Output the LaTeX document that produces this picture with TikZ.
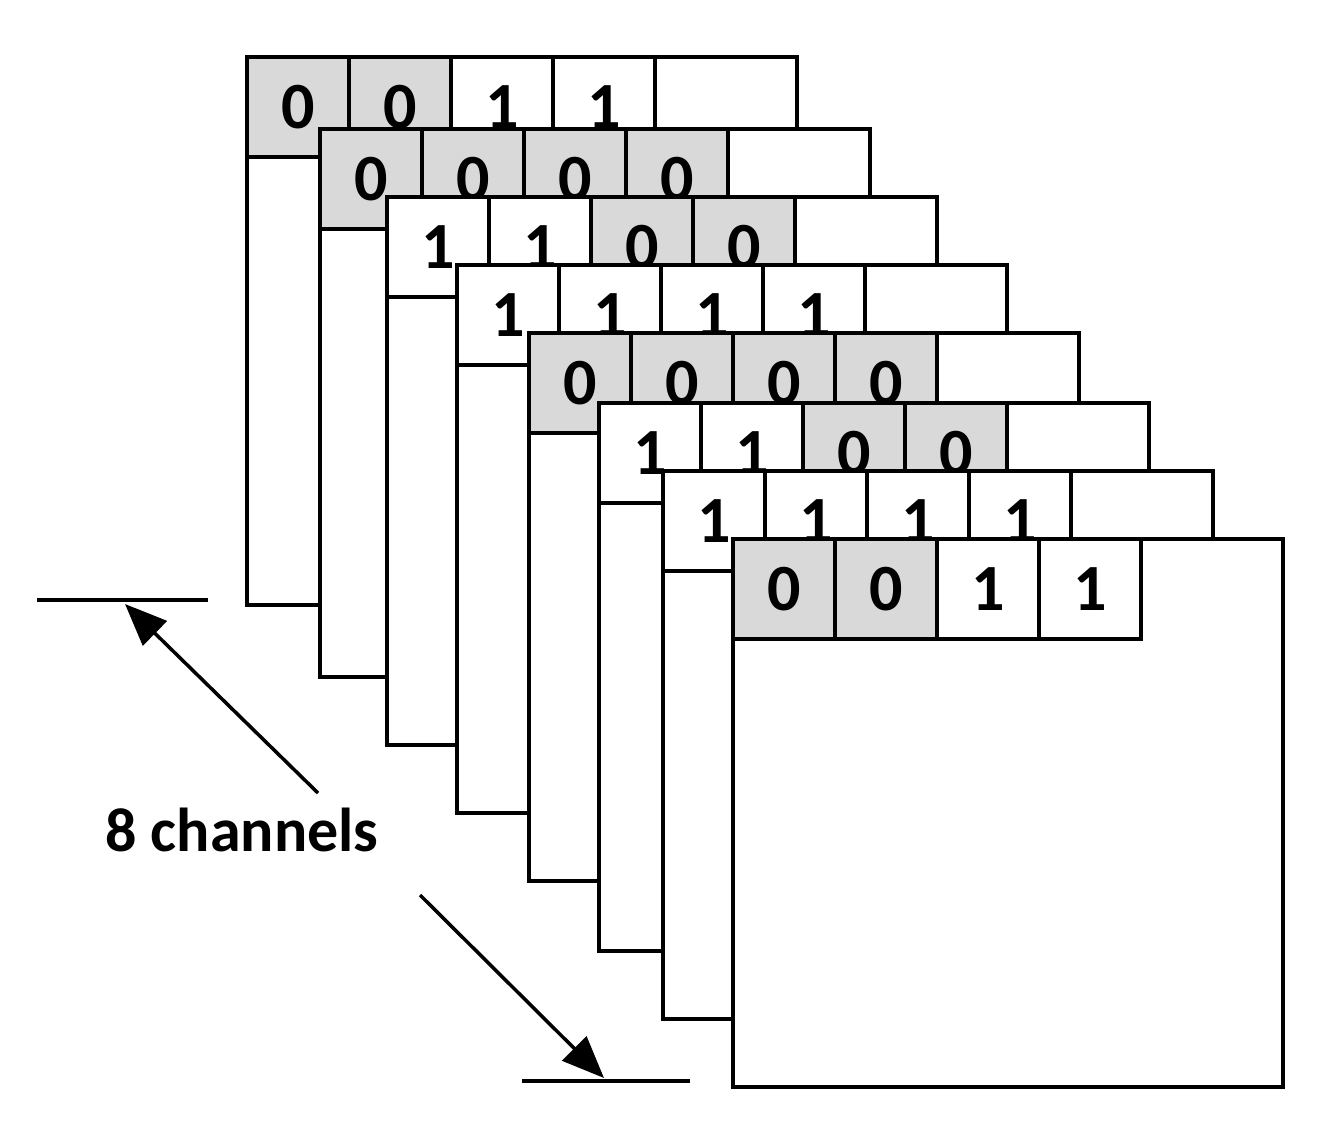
\documentclass[tikz,border=0pt]{standalone}
\usepackage{fontspec}
\setmainfont{Carlito}
\usetikzlibrary{arrows.meta}
\begin{document}
\begin{tikzpicture}[x=1pt,y=-1pt,
  frame/.style={draw=black,line width=3.5pt,fill=white},
  cell/.style={draw=black,line width=3.5pt},
  zero/.style={cell,fill=black!15},
  one/.style={cell,fill=white},
  dig/.style={font=\fontsize{66}{66}\selectfont\bfseries},
  lbl/.style={font=\fontsize{62}{62}\selectfont\bfseries},
  arr/.style={line width=3.5pt,-{Triangle[length=42pt,width=34pt]}},
  bar/.style={line width=3.5pt}]
\useasboundingbox (0,0) rectangle (1325,1141);
\def\xs{{245,318,385,455,527,597,661,731}}
\def\ys{{55,127,195,263,331,401,469,537}}
\def\rows{{"0011","0000","1100","1111","0000","1100","1111","0011"}}
\foreach \k [evaluate=\k as \x using {\xs[\k]}, evaluate=\k as \y using {\ys[\k]}] in {0,...,7}{
  \node[frame,minimum width=550pt,minimum height=548pt,inner sep=0pt,anchor=north west] (f\k) at (\x,\y) {};
  \foreach \c in {0,...,3}{
    \pgfmathsetmacro{\bit}{int(mod(floor({"0011","0000","1100","1111","0000","1100","1111","0011"}[\k]/10^(3-\c)),10))}
    \ifnum\bit=0
      \node[zero,dig,minimum width=102pt,minimum height=100pt,inner sep=0pt,anchor=north west] (c\k\c) at (\x+\c*102,\y) {0};
    \else
      \node[one,dig,minimum width=102pt,minimum height=100pt,inner sep=0pt,anchor=north west] (c\k\c) at (\x+\c*102,\y) {1};
    \fi
  }
}
\coordinate (b1l) at (37,600); \coordinate (b1r) at (208,600);
\coordinate (b2l) at (522,1081); \coordinate (b2r) at (690,1081);
\draw[bar] (b1l) -- (b1r);
\draw[bar] (b2l) -- (b2r);
\node[lbl] (t) at (242,830) {8 channels};
\coordinate (a1s) at (318,793); \coordinate (a1e) at (125,604);
\coordinate (a2s) at (420,895); \coordinate (a2e) at (604,1078);
\draw[arr] (a1s) -- (a1e);
\draw[arr] (a2s) -- (a2e);
\end{tikzpicture}
\end{document}
